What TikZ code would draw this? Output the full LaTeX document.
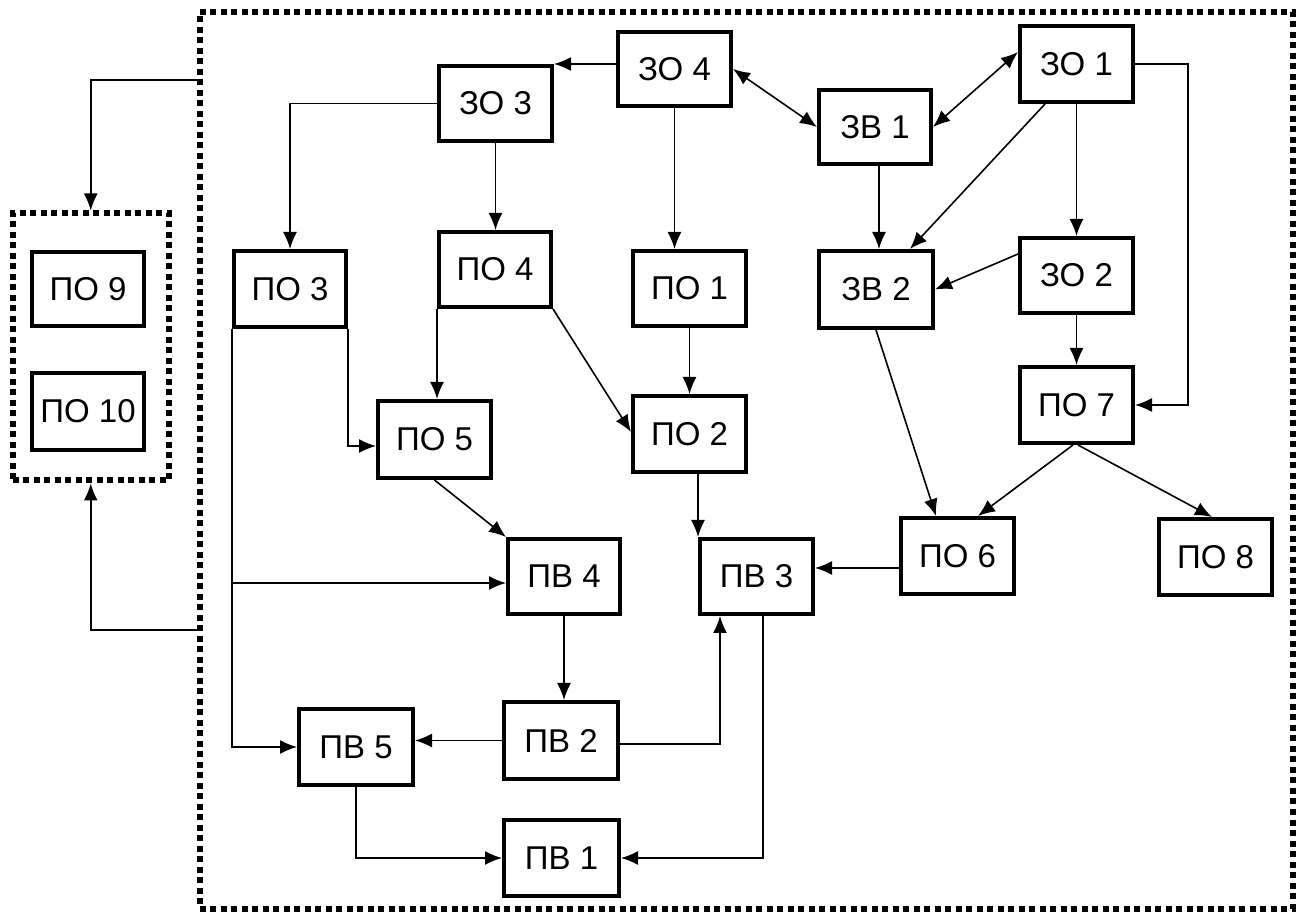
\documentclass[tikz,border=0pt]{standalone}
\usepackage{fontspec}
\setmainfont{Liberation Sans}
\usetikzlibrary{arrows.meta}
\begin{document}
\begin{tikzpicture}[x=0.5pt,y=-0.5pt,
  box/.style={draw,line width=2pt,inner sep=0pt,font=\fontsize{16.5}{19}\selectfont},
  dotbox/.style={draw,line width=3pt,dash pattern=on 3pt off 2.25pt,inner sep=0pt},
  arr/.style={line width=0.8pt,-{Latex[length=8.5pt,width=7pt]}},
  darr/.style={line width=0.8pt,{Latex[length=8.5pt,width=7pt]}-{Latex[length=8.5pt,width=7pt]}}]
\newcommand\bx[6]{\node[box,minimum width={(#4-#2)*0.5pt-2pt},minimum height={(#5-#3)*0.5pt-2pt}] (#1) at ({(#2+#4)/2},{(#3+#5)/2}) {#6};}
\useasboundingbox (0,0) rectangle (1296,913);
\fill[white] (0,0) rectangle (1296,913);
% containers
\node[dotbox,minimum width=546.5pt,minimum height=448.25pt] (outer) at (746,460.25) {};
\node[dotbox,minimum width=78.25pt,minimum height=133.5pt] (inner) at (90.75,347) {};
% boxes
\bx{po9}{30}{250}{146}{328}{ПО 9}
\bx{po10}{30}{371}{146}{452}{ПО 10}
\bx{po3}{232}{249}{348}{329}{ПО 3}
\bx{zo3}{437}{64}{554}{143}{ЗО 3}
\bx{zo4}{616}{30}{733}{108}{ЗО 4}
\bx{zv1}{817}{88}{933}{166}{ЗВ 1}
\bx{zo1}{1018}{24}{1135}{104}{ЗО 1}
\bx{zo2}{1018}{236}{1135}{315}{ЗО 2}
\bx{zv2}{817}{249}{935}{330}{ЗВ 2}
\bx{po4}{437}{230}{553}{309}{ПО 4}
\bx{po1}{631}{249}{748}{328}{ПО 1}
\bx{po5}{376}{399}{493}{480}{ПО 5}
\bx{po2}{631}{394}{748}{474}{ПО 2}
\bx{po7}{1018}{365}{1135}{445}{ПО 7}
\bx{po6}{899}{516}{1016}{596}{ПО 6}
\bx{po8}{1157}{517}{1274}{597}{ПО 8}
\bx{pv4}{506}{537}{622}{616}{ПВ 4}
\bx{pv3}{698}{537}{815}{616}{ПВ 3}
\bx{pv5}{297}{707}{415}{787}{ПВ 5}
\bx{pv2}{502}{700}{620}{781}{ПВ 2}
\bx{pv1}{502}{818}{621}{898}{ПВ 1}
% connectors
\draw[arr] ([yshift=190.125pt]outer.west) -| (inner.north);
\draw[arr] ([yshift=-84.875pt]outer.west) -| (inner.south);
\draw[arr] (zo3.west) -| (po3.north);
\draw[arr] (zo4.west |- zo3.north east) -- (zo3.north east);
\draw[darr] (zo4.east) -- (zv1.west);
\draw[darr] (zv1.east) -- ([yshift=6pt]zo1.west);
\draw[arr] (zo3.south) -- (zo3.south |- po4.north);
\draw[arr] (zo4.south) -- (zo4.south |- po1.north);
\draw[arr] (zo1.east) -- ++(26.5pt,0) |- (po7.east);
\draw[arr] (zo1.south) -- (zo2.north);
\draw[arr] ([xshift=2pt]zv1.south) -- ([xshift=2pt]zv1.south |- zv2.north);
\draw[arr] ([xshift=13.5pt]zo1.south west) -- ([xshift=-12.5pt]zv2.north east);
\draw[arr] ([yshift=10.75pt]zo2.west) -- (zv2.east);
\draw[arr] (zo2.south) -- (po7.north);
\draw[arr] ([xshift=-1.75pt]po7.south) -- ([xshift=10.25pt]po6.north);
\draw[arr] ([xshift=0.75pt]po7.south) -- ([xshift=-1.75pt]po8.north);
\draw[arr] (zv2.south) -- ([xshift=-10.75pt]po6.north);
\draw[arr] ([yshift=-6pt]po6.west) -- ([yshift=-6pt]po6.west -| pv3.east);
\draw[arr] (po1.south) -- (po2.north);
\draw[arr] (po4.south east) -- ([yshift=1pt]po2.west);
\draw[arr] (po4.south west) -- (po4.south west |- po5.north);
\draw[arr] (po3.south east) |- ([yshift=-3.25pt]po5.west);
\draw[arr] (po3.south west) |- (pv5.west);
\coordinate (br) at ([yshift=-3.25pt]pv4.west);
\draw[arr] (po3.south west |- br) -- (br);
\draw[arr] (po5.south) -- (pv4.north west);
\draw[arr] ([xshift=4.25pt]po2.south) -- ([xshift=4.25pt]po2.south |- pv3.north);
\draw[arr] (pv4.south) -- (pv4.south |- pv2.north);
\draw[arr] (pv2.west) -- (pv2.west -| pv5.east);
\draw[arr] ([yshift=-1.75pt]pv2.east) -| ([xshift=-18.25pt]pv3.south);
\draw[arr] ([xshift=3.25pt]pv3.south) |- (pv1.east);
\draw[arr] (pv5.south) |- (pv1.west);
\end{tikzpicture}
\end{document}
